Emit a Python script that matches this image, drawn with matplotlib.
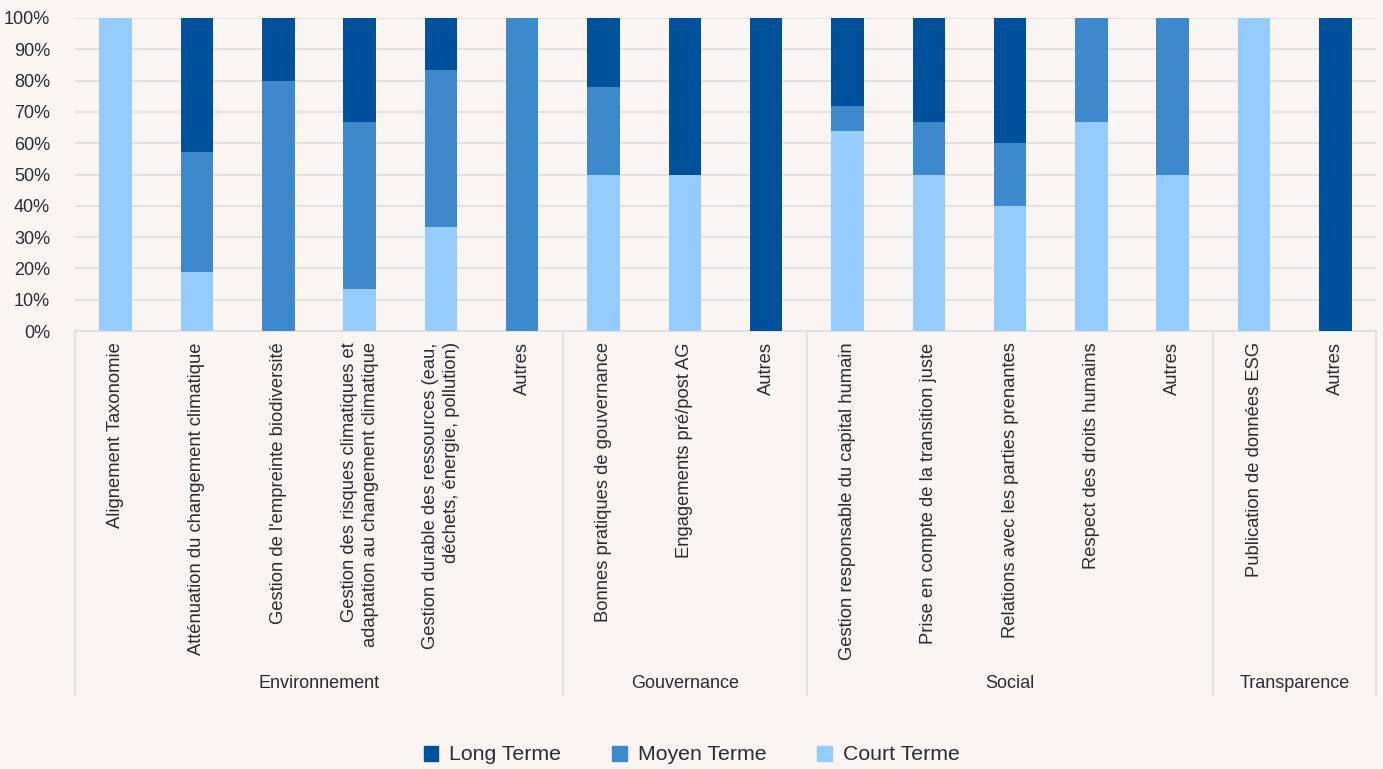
import numpy as np
import matplotlib.pyplot as plt
from matplotlib.transforms import blended_transform_factory
from matplotlib.patches import Patch

plt.rcParams['font.family'] = ['Liberation Sans', 'DejaVu Sans']

categories = [
    "Alignement Taxonomie",
    "Atténuation du changement climatique",
    "Gestion de l'empreinte biodiversité",
    "Gestion des risques climatiques et\nadaptation au changement climatique",
    "Gestion durable des ressources (eau,\ndéchets, énergie, pollution)",
    "Autres",
    "Bonnes pratiques de gouvernance",
    "Engagements pré/post AG",
    "Autres",
    "Gestion responsable du capital humain",
    "Prise en compte de la transition juste",
    "Relations avec les parties prenantes",
    "Respect des droits humains",
    "Autres",
    "Publication de données ESG",
    "Autres",
]
groups = ["Environnement", "Gouvernance", "Social", "Transparence"]
group_sizes = [6, 3, 5, 2]

court = [100, 19.0, 0, 13.3, 33.3, 0, 50, 50, 0, 64, 50, 40, 66.7, 50, 100, 0]
moyen = [0, 38.1, 80, 53.4, 50.0, 100, 27.8, 0, 0, 8, 16.7, 20, 33.3, 50, 0, 0]
long_ = [0, 42.9, 20, 33.3, 16.7, 0, 22.2, 50, 100, 28, 33.3, 40, 0, 0, 0, 100]

series_names = ["Long Terme", "Moyen Terme", "Court Terme"]
colors = {"Long Terme": "#00519b", "Moyen Terme": "#3d89cc", "Court Terme": "#95cbfd"}

bg = "#faf5f3"
txt = "#2b2b33"
line_c = "#dedde2"

fig = plt.figure(figsize=(13.83, 7.69), dpi=100, facecolor=bg)
ax = fig.add_axes([75 / 1383, 1 - 331 / 769, 1301 / 1383, 313 / 769])
ax.set_facecolor(bg)

x = np.arange(len(categories))
court = np.array(court)
moyen = np.array(moyen)
long_ = np.array(long_)
w = 0.4
ax.bar(x, court, w, color=colors["Court Terme"], zorder=3)
ax.bar(x, moyen, w, bottom=court, color=colors["Moyen Terme"], zorder=3)
ax.bar(x, long_, w, bottom=court + moyen, color=colors["Long Terme"], zorder=3)

ax.set_xlim(-0.5, len(categories) - 0.5)
ax.set_ylim(0, 100)
ax.set_yticks(np.arange(0, 101, 10))
ax.set_yticklabels([f"{v}%" for v in range(0, 101, 10)], fontsize=13, color=txt)
ax.tick_params(axis='y', length=0, pad=18)
ax.set_xticks([])
ax.grid(axis='y', color=line_c, linewidth=1.2, zorder=0)
for s in ['top', 'left', 'right']:
    ax.spines[s].set_visible(False)
ax.spines['bottom'].set_color(line_c)
ax.spines['bottom'].set_linewidth(1.2)

tr = blended_transform_factory(ax.transData, ax.transAxes)
for i, lab in enumerate(categories):
    ax.text(i, -0.036, lab, transform=tr, rotation=90, ha='center', va='top',
            multialignment='right', fontsize=13.2, color=txt, linespacing=1.3)

# group separators and names
bottom_y = -(695 - 331) / 313
edges = np.concatenate([[0], np.cumsum(group_sizes)]) - 0.5
for e in edges:
    ax.plot([e, e], [0, bottom_y], transform=tr, color=line_c, lw=1.2, clip_on=False)
for g, a, b in zip(groups, edges[:-1], edges[1:]):
    ax.text((a + b) / 2, -(684 - 331) / 313, g, transform=tr, ha='center', va='center',
            fontsize=13, color=txt)

handles = [Patch(color=colors[n]) for n in series_names]
fig.legend(handles, series_names, loc='center', bbox_to_anchor=(0.5, 1 - 755 / 769),
           ncol=3, frameon=False, fontsize=15.3, handlelength=0.7, handleheight=0.7,
           handletextpad=0.5, columnspacing=2.4, labelcolor=txt)

fig.savefig("out.png", dpi=100, facecolor=bg)
